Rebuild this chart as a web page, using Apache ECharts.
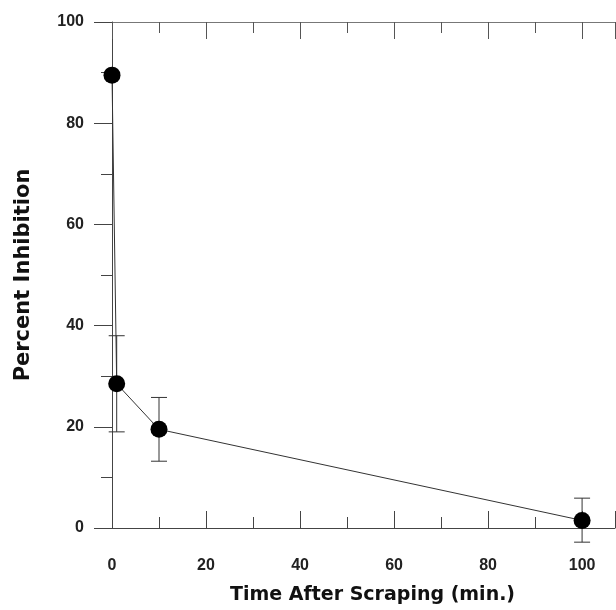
<!DOCTYPE html>
<html>
<head>
<meta charset="utf-8">
<script src="https://cdn.jsdelivr.net/npm/echarts@6/dist/echarts.min.js"></script>
<style>html,body{margin:0;padding:0;background:#fff;}#c{width:616px;height:610px;}</style>
</head>
<body>
<div id="c"></div>
<script>
var times = [0, 1, 10, 100];
var inhibition = [89.5, 28.5, 19.5, 1.5];
var errLow = [89.5, 19.0, 13.2, -2.8];
var errHigh = [89.5, 38.0, 25.8, 5.9];
var xTicks = [0, 20, 40, 60, 80, 100];
var yTicks = [0, 20, 40, 60, 80, 100];

var chart = echarts.init(document.getElementById('c'));
var font = '"Liberation Sans", Arial, Helvetica, sans-serif';
var titleFont = '"DejaVu Sans", "Liberation Sans", Arial, sans-serif';
var lineData = times.map(function (t, i) { return [t, inhibition[i]]; });
var errData = times.map(function (t, i) { return [t, errLow[i], errHigh[i]]; });

chart.setOption({
  animation: false,
  backgroundColor: '#fff',
  grid: { left: 112, top: 22, width: 503, height: 508 },
  xAxis: [{
    type: 'value', min: 0, max: 107, interval: 20, position: 'bottom',
    axisLine: { show: true, onZero: false, lineStyle: { color: '#444', width: 1 } },
    axisTick: { show: true, inside: true, length: 17, lineStyle: { color: '#444' } },
    minorTick: { show: true, splitNumber: 2, length: 11, lineStyle: { color: '#444' } },
    splitLine: { show: false },
    axisLabel: {
      margin: 30, fontSize: 16, fontWeight: 'bold', color: '#222', fontFamily: font,
      showMaxLabel: false,
      formatter: function (v) { return xTicks.indexOf(v) >= 0 ? String(v) : ''; }
    },
    name: 'Time After Scraping (min.)', nameLocation: 'middle', nameGap: 58,
    nameTextStyle: { fontSize: 19, fontWeight: 'bold', color: '#111', fontFamily: titleFont, padding: [0, 0, 0, 18] }
  }, {
    type: 'value', min: 0, max: 107, interval: 20, position: 'top',
    axisLine: { show: true, onZero: false, lineStyle: { color: '#777', width: 1 } },
    axisTick: { show: true, inside: true, length: 17, lineStyle: { color: '#555' } },
    minorTick: { show: true, splitNumber: 2, length: 11, lineStyle: { color: '#555' } },
    splitLine: { show: false },
    axisLabel: { show: false }
  }],
  yAxis: {
    type: 'value', min: 0, max: 100, interval: 20,
    axisLine: { show: true, onZero: false, lineStyle: { color: '#444', width: 1 } },
    axisTick: { show: true, inside: false, length: 18, lineStyle: { color: '#444' } },
    minorTick: { show: true, splitNumber: 2, length: 11, lineStyle: { color: '#444' } },
    splitLine: { show: false },
    axisLabel: {
      margin: 28, fontSize: 16, fontWeight: 'bold', color: '#222', fontFamily: font,
      formatter: function (v) { return yTicks.indexOf(v) >= 0 ? String(v) : ''; }
    },
    name: 'Percent Inhibition', nameLocation: 'middle', nameGap: 78,
    nameTextStyle: { fontSize: 21, fontWeight: 'bold', color: '#111', fontFamily: titleFont }
  },
  series: [{
    type: 'line', data: lineData, xAxisIndex: 0,
    symbol: 'circle', symbolSize: 17,
    lineStyle: { color: '#333', width: 1 },
    itemStyle: { color: '#000' },
    z: 3
  }, {
    type: 'custom', xAxisIndex: 0, clip: false, z: 2,
    data: errData,
    renderItem: function (params, api) {
      var x = api.value(0);
      var lo = api.coord([x, api.value(1)]);
      var hi = api.coord([x, api.value(2)]);
      if (Math.abs(lo[1] - hi[1]) < 1) return;
      var w = 8;
      var st = { stroke: '#333', lineWidth: 1 };
      return {
        type: 'group',
        children: [
          { type: 'line', shape: { x1: lo[0], y1: lo[1], x2: hi[0], y2: hi[1] }, style: st },
          { type: 'line', shape: { x1: lo[0] - w, y1: lo[1], x2: lo[0] + w, y2: lo[1] }, style: st },
          { type: 'line', shape: { x1: hi[0] - w, y1: hi[1], x2: hi[0] + w, y2: hi[1] }, style: st }
        ]
      };
    }
  }]
});
</script>
</body>
</html>
